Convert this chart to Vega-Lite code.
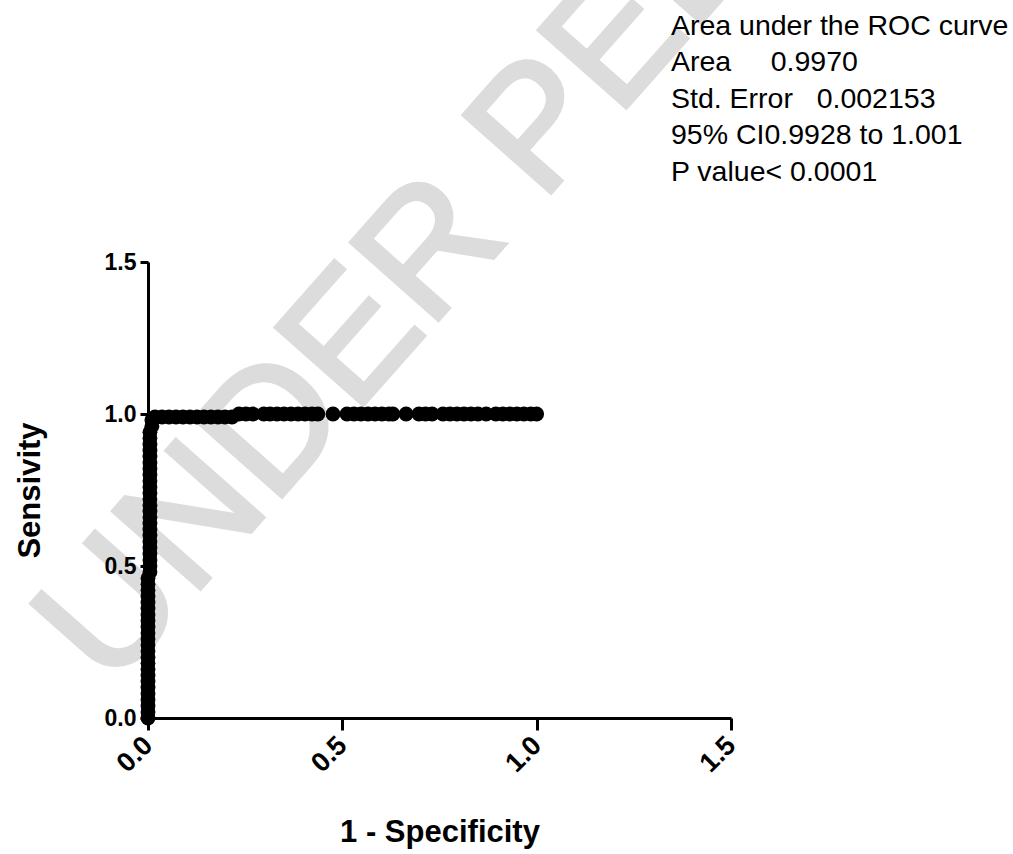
{
  "$schema": "https://vega.github.io/schema/vega-lite/v6.json",
  "width": 583,
  "height": 456,
  "autosize": "none",
  "padding": {"left": 148, "top": 262, "right": 282, "bottom": 136},
  "background": "white",
  "config": {"view": {"stroke": null}, "font": "Liberation Sans"},
  "encoding": {
    "x": {
      "field": "fpr",
      "type": "quantitative",
      "scale": {"domain": [0, 1.5], "nice": false, "zero": false},
      "axis": {
        "values": [0, 0.5, 1, 1.5],
        "format": ".1f",
        "title": "1 - Specificity",
        "grid": false,
        "zindex": 1,
        "labelAngle": -45,
        "labelAlign": "right",
        "labelBaseline": "middle",
        "labelFont": "Liberation Sans",
        "labelFontWeight": "bold",
        "labelFontSize": 27,
        "labelColor": "black",
        "labelPadding": 11,
        "labelFlush": false,
        "labelOverlap": false,
        "tickSize": 12,
        "tickWidth": 3,
        "tickColor": "black",
        "domainColor": "black",
        "domainWidth": 3,
        "titleFont": "Liberation Sans",
        "titleFontSize": 31,
        "titleFontWeight": "bold",
        "titleColor": "black",
        "titlePadding": 41
      }
    },
    "y": {
      "field": "tpr",
      "type": "quantitative",
      "scale": {"domain": [0, 1.5], "nice": false, "zero": false},
      "axis": {
        "values": [0, 0.5, 1, 1.5],
        "format": ".1f",
        "title": "Sensivity",
        "grid": false,
        "zindex": 1,
        "labelFont": "Liberation Sans",
        "labelFontWeight": "bold",
        "labelFontSize": 23,
        "labelColor": "black",
        "labelPadding": 4,
        "labelFlush": false,
        "labelOverlap": false,
        "tickSize": 8,
        "tickWidth": 3,
        "tickColor": "black",
        "domainColor": "black",
        "domainWidth": 3,
        "titleFont": "Liberation Sans",
        "titleFontSize": 31,
        "titleFontWeight": "bold",
        "titleColor": "black",
        "titlePadding": 58
      }
    }
  },
  "layer": [
    {
      "data": {"values": [{"label": "UNDER PEER REVIEW", "fpr": -0.0978, "tpr": 0.0888}]},
      "mark": {"type": "text", "fontSize": 170, "angle": -48.5, "align": "left", "baseline": "alphabetic", "color": "#dcdcdc", "stroke": "#dcdcdc", "strokeWidth": 4, "font": "Liberation Sans"},
      "encoding": {"text": {"field": "label"}}
    },
    {
      "data": {"values": [
        {"fpr": 0, "tpr": 0}, {"fpr": 0, "tpr": 0.02}, {"fpr": 0, "tpr": 0.04}, {"fpr": 0, "tpr": 0.06}, {"fpr": 0, "tpr": 0.08},
        {"fpr": 0, "tpr": 0.1}, {"fpr": 0, "tpr": 0.12}, {"fpr": 0, "tpr": 0.14}, {"fpr": 0, "tpr": 0.16}, {"fpr": 0, "tpr": 0.18},
        {"fpr": 0, "tpr": 0.2}, {"fpr": 0, "tpr": 0.22}, {"fpr": 0, "tpr": 0.24}, {"fpr": 0, "tpr": 0.26}, {"fpr": 0, "tpr": 0.28},
        {"fpr": 0, "tpr": 0.3}, {"fpr": 0, "tpr": 0.32}, {"fpr": 0, "tpr": 0.34}, {"fpr": 0, "tpr": 0.36}, {"fpr": 0, "tpr": 0.38},
        {"fpr": 0, "tpr": 0.4}, {"fpr": 0, "tpr": 0.42}, {"fpr": 0, "tpr": 0.44}, {"fpr": 0, "tpr": 0.46}, {"fpr": 0.005, "tpr": 0.48},
        {"fpr": 0.005, "tpr": 0.5}, {"fpr": 0.005, "tpr": 0.52}, {"fpr": 0.005, "tpr": 0.54}, {"fpr": 0.005, "tpr": 0.56}, {"fpr": 0.005, "tpr": 0.58},
        {"fpr": 0.005, "tpr": 0.6}, {"fpr": 0.005, "tpr": 0.62}, {"fpr": 0.005, "tpr": 0.64}, {"fpr": 0.005, "tpr": 0.66}, {"fpr": 0.005, "tpr": 0.68},
        {"fpr": 0.005, "tpr": 0.7}, {"fpr": 0.005, "tpr": 0.72}, {"fpr": 0.005, "tpr": 0.74}, {"fpr": 0.005, "tpr": 0.76}, {"fpr": 0.005, "tpr": 0.78},
        {"fpr": 0.005, "tpr": 0.8}, {"fpr": 0.005, "tpr": 0.82}, {"fpr": 0.005, "tpr": 0.84}, {"fpr": 0.005, "tpr": 0.86}, {"fpr": 0.005, "tpr": 0.88},
        {"fpr": 0.005, "tpr": 0.9}, {"fpr": 0.005, "tpr": 0.92}, {"fpr": 0.005, "tpr": 0.94}, {"fpr": 0.01, "tpr": 0.96}, {"fpr": 0.01, "tpr": 0.98},
        {"fpr": 0.018, "tpr": 0.99}, {"fpr": 0.036, "tpr": 0.99}, {"fpr": 0.054, "tpr": 0.99}, {"fpr": 0.072, "tpr": 0.99}, {"fpr": 0.09, "tpr": 0.99},
        {"fpr": 0.108, "tpr": 0.99}, {"fpr": 0.126, "tpr": 0.99}, {"fpr": 0.144, "tpr": 0.99}, {"fpr": 0.162, "tpr": 0.99}, {"fpr": 0.18, "tpr": 0.99},
        {"fpr": 0.198, "tpr": 0.99}, {"fpr": 0.216, "tpr": 0.99}, {"fpr": 0.234, "tpr": 1}, {"fpr": 0.252, "tpr": 1}, {"fpr": 0.27, "tpr": 1},
        {"fpr": 0.298, "tpr": 1}, {"fpr": 0.314, "tpr": 1}, {"fpr": 0.332, "tpr": 1}, {"fpr": 0.35, "tpr": 1}, {"fpr": 0.368, "tpr": 1}, {"fpr": 0.386, "tpr": 1},
        {"fpr": 0.404, "tpr": 1}, {"fpr": 0.422, "tpr": 1}, {"fpr": 0.437, "tpr": 1}, {"fpr": 0.476, "tpr": 1}, {"fpr": 0.512, "tpr": 1}, {"fpr": 0.53, "tpr": 1},
        {"fpr": 0.548, "tpr": 1}, {"fpr": 0.566, "tpr": 1}, {"fpr": 0.584, "tpr": 1}, {"fpr": 0.602, "tpr": 1}, {"fpr": 0.62, "tpr": 1},
        {"fpr": 0.63, "tpr": 1}, {"fpr": 0.664, "tpr": 1}, {"fpr": 0.697, "tpr": 1}, {"fpr": 0.714, "tpr": 1}, {"fpr": 0.731, "tpr": 1}, {"fpr": 0.759, "tpr": 1}, {"fpr": 0.777, "tpr": 1},
        {"fpr": 0.795, "tpr": 1}, {"fpr": 0.813, "tpr": 1}, {"fpr": 0.831, "tpr": 1}, {"fpr": 0.849, "tpr": 1}, {"fpr": 0.87, "tpr": 1},
        {"fpr": 0.895, "tpr": 1}, {"fpr": 0.913, "tpr": 1}, {"fpr": 0.931, "tpr": 1}, {"fpr": 0.949, "tpr": 1}, {"fpr": 0.967, "tpr": 1}, {"fpr": 0.985, "tpr": 1},
        {"fpr": 1, "tpr": 1}
      ]},
      "mark": {"type": "circle", "size": 220, "color": "black", "opacity": 1}
    },
    {
      "data": {"values": [{"label": ["Area under the ROC curve", "Area\u00a0\u00a0\u00a0\u00a0\u00a00.9970", "Std. Error\u00a0\u00a0\u00a00.002153", "95% CI0.9928 to 1.001", "P value< 0.0001"], "fpr": 1.3455, "tpr": 2.247}]},
      "mark": {"type": "text", "align": "left", "baseline": "alphabetic", "font": "Liberation Sans", "fontSize": 28.5, "lineHeight": 36.5, "color": "black"},
      "encoding": {"text": {"field": "label"}}
    }
  ]
}
